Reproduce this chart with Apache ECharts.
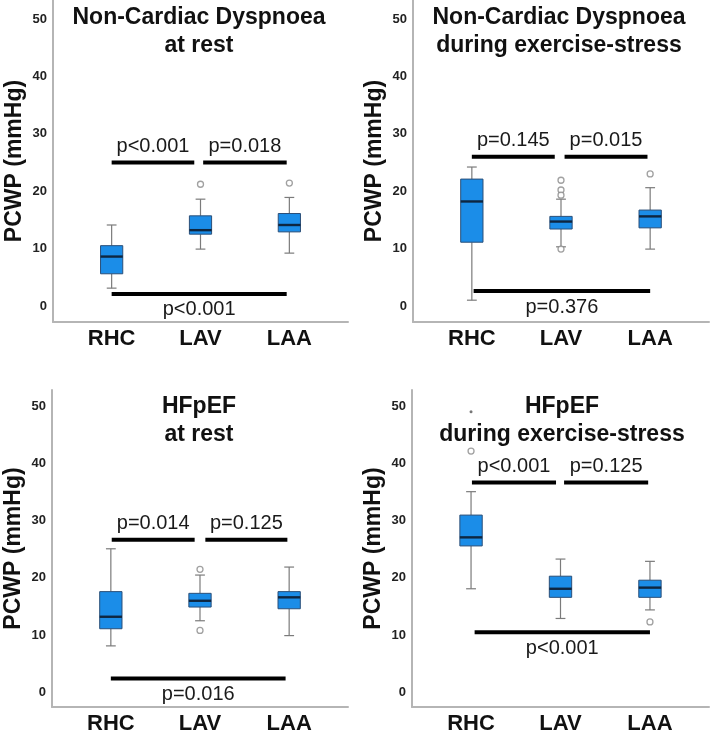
<!DOCTYPE html>
<html>
<head>
<meta charset="utf-8">
<script src="https://cdn.jsdelivr.net/npm/echarts@6/dist/echarts.min.js"></script>
<style>html,body{margin:0;padding:0;background:#fff}#c{width:712px;height:735px}</style>
</head>
<body>
<div id="c"></div>
<script>
// ---------- data ----------
const categories = ['RHC', 'LAV', 'LAA'];
const yTicks = [0, 10, 20, 30, 40, 50];
const titles = [
  'Non-Cardiac Dyspnoea\nat rest',
  'Non-Cardiac Dyspnoea\nduring exercise-stress',
  'HFpEF\nat rest',
  'HFpEF\nduring exercise-stress'
];
// box: [categoryIndex, lowerWhisker, Q1, median, Q3, upperWhisker]
const ncdRestBox = [[0, 3.1, 5.6, 8.6, 10.5, 14.1], [1, 9.9, 12.5, 13.2, 15.7, 18.6], [2, 9.2, 12.9, 14.1, 16.1, 18.9]];
const ncdExBox = [[0, 1.0, 11.1, 18.2, 22.1, 24.2], [1, 10.3, 13.4, 14.7, 15.6, 18.6], [2, 9.9, 13.6, 15.6, 16.7, 20.6]];
const hfRestBox = [[0, 8.1, 11.1, 13.2, 17.6, 25.1], [1, 12.5, 14.9, 16.0, 17.3, 20.5], [2, 9.9, 14.6, 16.6, 17.6, 21.9]];
const hfExBox = [[0, 18.1, 25.6, 27.1, 31.0, 35.1], [1, 12.9, 16.6, 18.1, 20.3, 23.3], [2, 14.4, 16.6, 18.3, 19.6, 22.9]];
// outliers: [categoryIndex, value]
const ncdRestOut = [[1, 21.2], [2, 21.4]];
const ncdExOut = [[1, 21.9], [1, 20.2], [1, 19.3], [1, 9.9], [2, 23.0]];
const hfRestOut = [[1, 21.5], [1, 10.8]];
const hfExOut = [[0, 42.2], [2, 12.3]];
const hfExExtreme = [[0, 49.1]];
// significance bars: [xStart, xEnd, y, side (1 = label above, -1 = label below)]
const ncdRestBars = [[0, 0.93, 25.0, 1], [1.03, 1.97, 25.0, 1], [0, 1.97, 2.1, -1]];
const ncdRestP = ['p<0.001', 'p=0.018', 'p<0.001'];
const ncdExBars = [[0, 0.93, 26.0, 1], [1.04, 1.97, 26.0, 1], [0.02, 2.0, 2.6, -1]];
const ncdExP = ['p=0.145', 'p=0.015', 'p=0.376'];
const hfRestBars = [[0.01, 0.94, 26.7, 1], [1.06, 1.98, 26.7, 1], [0, 1.96, 2.4, -1]];
const hfRestP = ['p=0.014', 'p=0.125', 'p=0.016'];
const hfExBars = [[0.01, 0.95, 36.7, 1], [1.04, 1.98, 36.7, 1], [0.04, 2.0, 10.5, -1]];
const hfExP = ['p<0.001', 'p=0.125', 'p<0.001'];

const panels = [
  { box: ncdRestBox, out: ncdRestOut, ext: [], bars: ncdRestBars, p: ncdRestP },
  { box: ncdExBox, out: ncdExOut, ext: [], bars: ncdExBars, p: ncdExP },
  { box: hfRestBox, out: hfRestOut, ext: [], bars: hfRestBars, p: hfRestP },
  { box: hfExBox, out: hfExOut, ext: hfExExtreme, bars: hfExBars, p: hfExP }
];

// ---------- layout ----------
const FONT = '"Liberation Sans", Arial, sans-serif';
const grids = [
  { left: 53, top: 0, width: 295, height: 322, ymin: -2.8, ymax: 53.3, tx: 199, ty: 4 },
  { left: 413, top: 0, width: 296, height: 322, ymin: -2.8, ymax: 53.3, tx: 559, ty: 4 },
  { left: 52, top: 390, width: 296, height: 320, ymin: -2.6, ymax: 52.9, tx: 199, ty: 393 },
  { left: 412, top: 390, width: 297, height: 320, ymin: -2.6, ymax: 52.9, tx: 562, ty: 393 }
];

function renderBox(params, api) {
  const x = api.value(0);
  const low = api.coord([x, api.value(1)]);
  const q1 = api.coord([x, api.value(2)]);
  const med = api.coord([x, api.value(3)]);
  const q3 = api.coord([x, api.value(4)]);
  const high = api.coord([x, api.value(5)]);
  const half = api.size([0.25, 0])[0] / 2;
  const cap = api.size([0.11, 0])[0] / 2;
  const cx = med[0];
  const ws = { stroke: '#7b7b7b', lineWidth: 1.2 };
  return {
    type: 'group',
    children: [
      { type: 'line', shape: { x1: cx, y1: high[1], x2: cx, y2: q3[1] }, style: ws },
      { type: 'line', shape: { x1: cx, y1: q1[1], x2: cx, y2: low[1] }, style: ws },
      { type: 'line', shape: { x1: cx - cap, y1: high[1], x2: cx + cap, y2: high[1] }, style: ws },
      { type: 'line', shape: { x1: cx - cap, y1: low[1], x2: cx + cap, y2: low[1] }, style: ws },
      { type: 'rect', shape: { x: cx - half, y: q3[1], width: 2 * half, height: q1[1] - q3[1] },
        style: { fill: '#1b8de8', stroke: '#2b4f78', lineWidth: 1 } },
      { type: 'line', shape: { x1: cx - half, y1: med[1], x2: cx + half, y2: med[1] },
        style: { stroke: '#0e2640', lineWidth: 2.4 } }
    ]
  };
}

function makeBarRenderer(labels) {
  return function (params, api) {
    const x0 = api.value(0), x1 = api.value(1), y = api.value(2), side = api.value(3);
    const a = api.coord([x0, y]);
    const b = api.coord([x1, y]);
    const mx = (a[0] + b[0]) / 2;
    return {
      type: 'group',
      children: [
        { type: 'line', shape: { x1: a[0], y1: a[1], x2: b[0], y2: b[1] },
          style: { stroke: '#000', lineWidth: 4 } },
        { type: 'text', x: mx, y: a[1] - side * 16,
          style: { text: labels[params.dataIndex], fill: '#1a1a1a', font: '20px ' + FONT,
                   align: 'center', verticalAlign: 'middle' } }
      ]
    };
  };
}

const option = {
  animation: false,
  backgroundColor: '#fff',
  title: grids.map((g, i) => ({
    text: titles[i], left: g.tx, top: g.ty, textAlign: 'center', padding: 0,
    textStyle: { fontFamily: FONT, fontSize: 23, fontWeight: 'bold', color: '#111', lineHeight: 28 }
  })),
  grid: grids.map(g => ({ left: g.left, top: g.top, width: g.width, height: g.height, containLabel: false })),
  xAxis: grids.map((g, i) => ({
    type: 'value', gridIndex: i, min: -0.66, max: 2.66,
    splitLine: { show: false },
    axisTick: { show: false },
    axisLine: { show: true, onZero: false, lineStyle: { color: '#b5b5b5', width: 2 } },
    axisLabel: {
      customValues: [0, 1, 2],
      formatter: v => categories[Math.round(v)] || '',
      fontFamily: FONT, fontSize: 22, fontWeight: 'bold', color: '#111', margin: 6
    }
  })),
  yAxis: grids.map((g, i) => ({
    type: 'value', gridIndex: i, min: g.ymin, max: g.ymax,
    name: 'PCWP (mmHg)', nameLocation: 'middle', nameGap: 27,
    nameTextStyle: { fontFamily: FONT, fontSize: 23, fontWeight: 'bold', color: '#111' },
    splitLine: { show: false },
    axisTick: { show: false },
    axisLine: { show: true, onZero: false, lineStyle: { color: '#b5b5b5', width: 2 } },
    axisLabel: {
      customValues: yTicks,
      fontFamily: FONT, fontSize: 13, fontWeight: 'bold', color: '#222', margin: 6
    }
  })),
  series: []
};

panels.forEach((p, i) => {
  option.series.push({
    type: 'custom', xAxisIndex: i, yAxisIndex: i, data: p.box, clip: false,
    renderItem: renderBox, encode: { x: 0, y: [1, 2, 3, 4, 5] }, z: 3
  });
  option.series.push({
    type: 'scatter', xAxisIndex: i, yAxisIndex: i, data: p.out, symbol: 'circle', symbolSize: 6,
    itemStyle: { color: '#fff', borderColor: '#8a8a8a', borderWidth: 1.3 }, z: 4, silent: true
  });
  if (p.ext.length) {
    option.series.push({
      type: 'scatter', xAxisIndex: i, yAxisIndex: i, data: p.ext, symbol: 'circle', symbolSize: 3,
      itemStyle: { color: '#555' }, z: 4, silent: true
    });
  }
  option.series.push({
    type: 'custom', xAxisIndex: i, yAxisIndex: i, data: p.bars, clip: false,
    renderItem: makeBarRenderer(p.p), encode: { x: [0, 1], y: 2 }, z: 5
  });
});

const chart = echarts.init(document.getElementById('c'), null, { renderer: 'canvas' });
chart.setOption(option);
</script>
</body>
</html>
